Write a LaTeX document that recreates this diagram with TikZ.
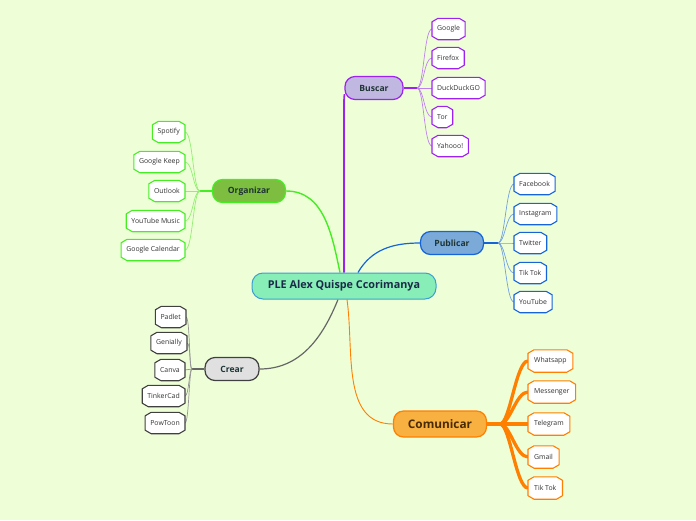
\documentclass[tikz,border=0pt]{standalone}
\usepackage{fontspec}
\setmainfont{Open Sans}
\usetikzlibrary{calc}
\pgfdeclarelayer{bg}
\pgfsetlayers{bg,main}
\definecolor{bgc}{HTML}{EEFFD8}
\definecolor{ctrfill}{HTML}{88EEB8}
\definecolor{ctrline}{HTML}{3A9FD0}
\definecolor{busfill}{HTML}{C0B8E0}
\definecolor{busline}{HTML}{A020F0}
\definecolor{busleaf}{HTML}{C080F0}
\definecolor{pubfill}{HTML}{7BAAD8}
\definecolor{publine}{HTML}{1565D8}
\definecolor{publeaf}{HTML}{70A0E0}
\definecolor{comfill}{HTML}{F8B040}
\definecolor{comline}{HTML}{FF7F00}
\definecolor{orgfill}{HTML}{7DBE40}
\definecolor{orgline}{HTML}{44EE22}
\definecolor{orgleaf}{HTML}{90F070}
\definecolor{crefill}{HTML}{E0E0E0}
\definecolor{creline}{HTML}{404040}
\definecolor{creleaf}{HTML}{959595}
\definecolor{txtdark}{HTML}{1A2A48}
\definecolor{txtbr}{HTML}{1F3535}
\definecolor{txtcom}{HTML}{4A2A00}
\newcommand\leafout[2]{%
  \draw[#2, line width=1.1pt, fill=white, line join=round]
    (#1.north west) -- ($(#1.north west)+(6pt,3.5pt)$) -- ($(#1.north east)+(-6pt,3.5pt)$)
    -- (#1.north east) -- (#1.south east) -- ($(#1.south east)+(-6pt,-3.5pt)$)
    -- ($(#1.south west)+(6pt,-3.5pt)$) -- (#1.south west) -- cycle;}
\tikzset{
  leafbox/.style={rectangle, inner xsep=5pt, inner ysep=1pt, minimum height=14pt,
    font=\fontsize{6.9}{8}\selectfont, text=black!80},
  combox/.style={leafbox, minimum height=15pt, inner xsep=6pt},
  branchbox/.style={rounded corners=10pt, line width=1.2pt, minimum height=23pt,
    inner xsep=8pt, font=\fontsize{8.6}{10}\selectfont\bfseries, text=txtbr},
  fan/.style={line width=0.7pt},
}
\begin{document}
\begin{tikzpicture}[x=1pt,y=-1pt]
\useasboundingbox (0,0) rectangle (696,520);
\begin{pgfonlayer}{bg}
\fill[bgc] (0,0) rectangle (696,520);
\end{pgfonlayer}

% center
\node[draw=ctrline, fill=ctrfill, line width=1pt, rounded corners=11pt,
  minimum width=184pt, minimum height=26pt,
  font=\fontsize{10.8}{12}\selectfont\bfseries, text=txtdark] (ctr) at (344,286)
  {PLE Alex Quispe Ccorimanya};

% branches
\node[branchbox, draw=busline, fill=busfill, minimum width=58pt] (bus) at (374,88) {Buscar};
\node[branchbox, draw=publine, fill=pubfill, minimum width=63pt] (pub) at (452,243) {Publicar};
\node[branchbox, draw=comline, fill=comfill, minimum width=93pt, minimum height=26pt,
  font=\fontsize{11.8}{13}\selectfont\bfseries, text=txtcom] (com) at (440,424) {Comunicar};
\node[branchbox, draw=orgline, fill=orgfill, minimum width=73pt] (org) at (249,191) {Organizar};
\node[branchbox, draw=creline, fill=crefill, minimum width=54pt] (cre) at (232,369) {Crear};

% junctions
\coordinate (jb) at (417,88);
\coordinate (jp) at (498,243);
\coordinate (jc) at (500,424);
\coordinate (jo) at (200,191);
\coordinate (jr) at (192,369);

% Buscar leaves
\node[leafbox, anchor=west] (b1) at (432,29) {Google};
\node[leafbox, anchor=west] (b2) at (432,58) {Firefox};
\node[leafbox, anchor=west] (b3) at (432,88) {DuckDuckGO};
\node[leafbox, anchor=west] (b4) at (432,117) {Tor};
\node[leafbox, anchor=west] (b5) at (432,146) {Yahooo!};
% Publicar leaves
\node[leafbox, anchor=west] (p1) at (514,184) {Facebook};
\node[leafbox, anchor=west] (p2) at (514,214) {Instagram};
\node[leafbox, anchor=west] (p3) at (514,243) {Twitter};
\node[leafbox, anchor=west] (p4) at (514,273) {Tik Tok};
\node[leafbox, anchor=west] (p5) at (514,302) {YouTube};
% Comunicar leaves
\node[combox, anchor=west] (c1) at (528,361) {Whatsapp};
\node[combox, anchor=west] (c2) at (528,392) {Messenger};
\node[combox, anchor=west] (c3) at (528,424) {Telegram};
\node[combox, anchor=west] (c4) at (528,457) {Gmail};
\node[combox, anchor=west] (c5) at (528,488) {Tik Tok};
% Organizar leaves
\node[leafbox, anchor=east] (o1) at (185,132) {Spotify};
\node[leafbox, anchor=east] (o2) at (185,162) {Google Keep};
\node[leafbox, anchor=east] (o3) at (185,191) {Outlook};
\node[leafbox, anchor=east] (o4) at (185,221) {YouTube Music};
\node[leafbox, anchor=east] (o5) at (185,250) {Google Calendar};
% Crear leaves
\node[leafbox, anchor=east] (r1) at (186,317) {Padlet};
\node[leafbox, anchor=east] (r2) at (187,343) {Genially};
\node[leafbox, anchor=east] (r3) at (185,370) {Canva};
\node[leafbox, anchor=east] (r4) at (185,396) {TinkerCad};
\node[leafbox, anchor=east] (r5) at (185,423) {PowToon};

\begin{pgfonlayer}{bg}
  % main connectors
  \draw[orgline, line width=1.4pt] ($(ctr.north)+(-4pt,0)$) to[out=102,in=0] (org.east);
  \draw[busline, line width=1.6pt] (ctr.north) -- (ctr.north |- bus.south west) -- ($(bus.south west)+(0,6pt)$);
  \draw[publine, line width=1.2pt] ($(ctr.north)+(14pt,0)$) to[out=60,in=180] (pub.west);
  \draw[creline!80, line width=1.2pt] ($(ctr.south)+(-6pt,0)$) to[out=-112,in=0] (cre.east);
  \draw[comline, line width=0.9pt] ($(ctr.south)+(3pt,0)$) to[out=-82,in=180] (com.west);
  % branch stubs
  \draw[busline, line width=1.2pt] (bus.east) -- (jb);
  \draw[publine, line width=1.2pt] (pub.east) -- (jp);
  \draw[comline, line width=3.5pt] (com.east) -- (jc);
  \draw[orgline, line width=1.2pt] (org.west) -- (jo);
  \draw[creline!80, line width=1.2pt] (cre.west) -- (jr);
  % fans
  \foreach \n in {b1,b2,b3,b4,b5} \draw[fan, busleaf] (jb) .. controls +(7,0) and +(-8,0) .. (\n.west);
  \foreach \n in {p1,p2,p3,p4,p5} \draw[fan, publeaf] (jp) .. controls +(7,0) and +(-8,0) .. (\n.west);
  \foreach \n in {c1,c2,c3,c4,c5} \draw[comline, line width=3.3pt] (jc) .. controls +(10,0) and +(-12,0) .. (\n.west);
  \foreach \n in {o1,o2,o3,o4,o5} \draw[fan, orgleaf] (jo) .. controls +(-7,0) and +(8,0) .. (\n.east);
  \foreach \n in {r1,r2,r3,r4,r5} \draw[fan, creleaf] (jr) .. controls +(-3,0) and +(4,0) .. (\n.east);
  % leaf outlines
  \foreach \n in {b1,b2,b3,b4,b5} {\leafout{\n}{busline}}
  \foreach \n in {p1,p2,p3,p4,p5} {\leafout{\n}{publine}}
  \foreach \n in {c1,c2,c3,c4,c5} {\leafout{\n}{comline}}
  \foreach \n in {o1,o2,o3,o4,o5} {\leafout{\n}{orgline}}
  \foreach \n in {r1,r2,r3,r4,r5} {\leafout{\n}{creline}}
\end{pgfonlayer}
\end{tikzpicture}
\end{document}
